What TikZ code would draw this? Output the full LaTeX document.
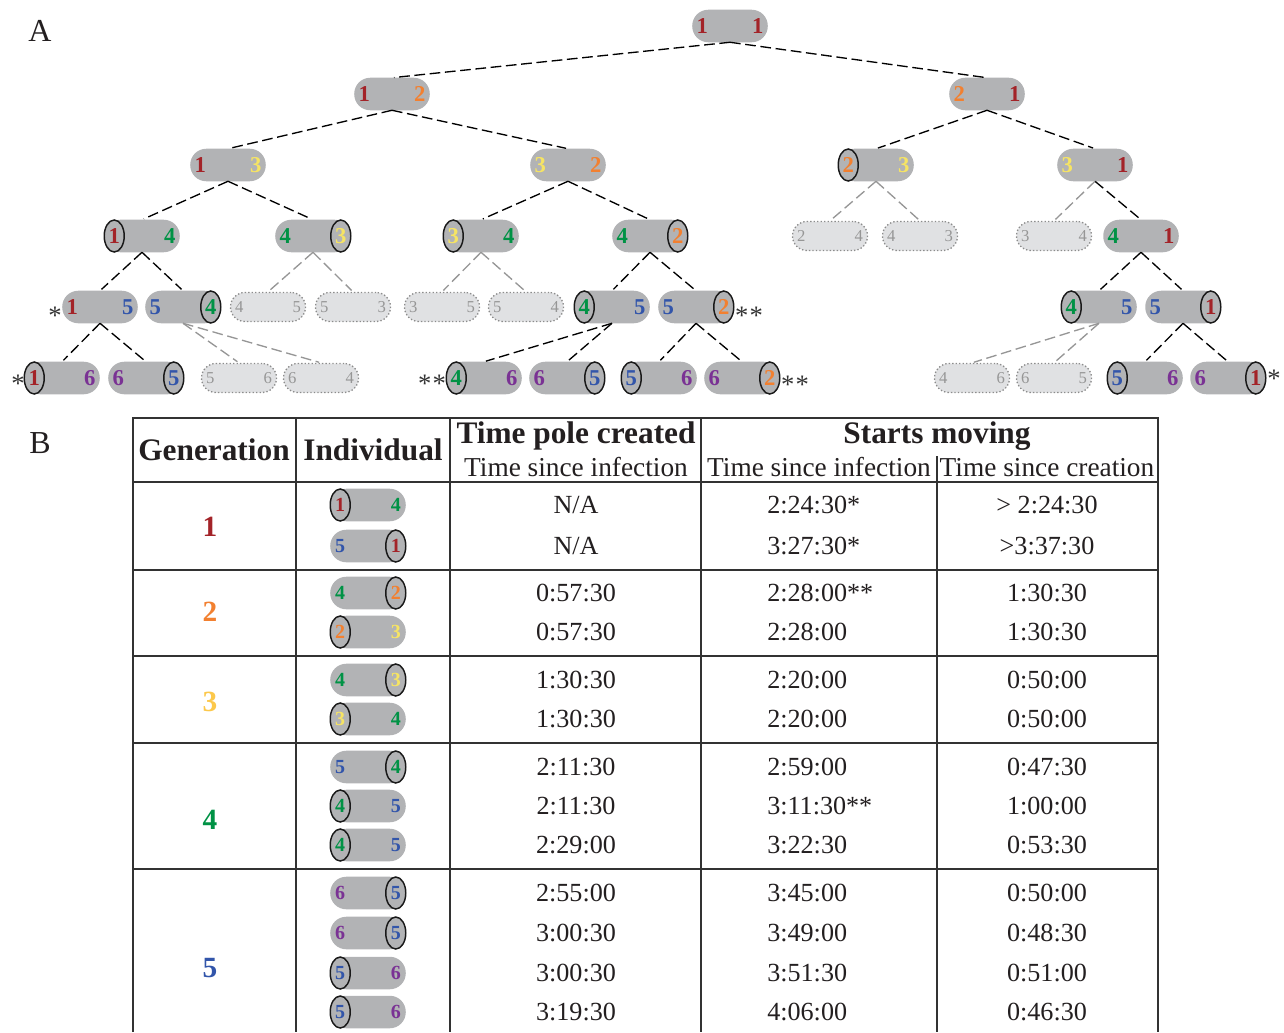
\documentclass[tikz,border=0pt]{standalone}
\usepackage{fontspec}
\setmainfont{Liberation Serif}
\definecolor{cR}{RGB}{163,35,40}
\definecolor{cO}{RGB}{242,128,48}
\definecolor{cY}{RGB}{246,228,100}
\definecolor{cYg}{RGB}{252,200,75}
\definecolor{cG}{RGB}{0,146,69}
\definecolor{cB}{RGB}{50,85,170}
\definecolor{cP}{RGB}{122,50,148}
\definecolor{pillgray}{RGB}{178,179,181}
\definecolor{ghostfill}{RGB}{224,225,227}
\definecolor{ghostline}{RGB}{140,140,140}
\definecolor{ghosttext}{RGB}{150,150,150}
\definecolor{linegray}{RGB}{150,150,150}
\definecolor{rulecol}{RGB}{50,50,50}
\definecolor{txt}{RGB}{35,31,32}
\newcommand\tdigf{\fontsize{17pt}{19pt}\selectfont\bfseries}
\newcommand\mdigf{\fontsize{15pt}{17pt}\selectfont\bfseries}
\newcommand\gdigf{\fontsize{12.5pt}{14pt}\selectfont}
\newcommand\hbf{\fontsize{23.5pt}{26pt}\selectfont\bfseries}
\newcommand\hsf{\fontsize{20.5pt}{24pt}\selectfont}
\newcommand\valf{\fontsize{19.6pt}{22pt}\selectfont}
\newcommand\genf{\fontsize{22pt}{24pt}\selectfont\bfseries}
\newcommand\labf{\fontsize{24pt}{26pt}\selectfont}
\newcommand\starf{\fontsize{20pt}{22pt}\selectfont}
\tikzset{
 pillbox/.style={inner sep=0pt, minimum width=56.25pt, minimum height=24pt},
 ghostbox/.style={inner sep=0pt, minimum width=56.25pt, minimum height=21.75pt, fill=ghostfill, draw=ghostline, line width=1pt, dash pattern=on 1pt off 1.6pt, rounded corners=10.8pt},
 capline/.style={draw=black!90, line width=1.1pt, fill=pillgray},
 tdig/.style={inner sep=0pt, font=\tdigf},
 mdig/.style={inner sep=0pt, font=\mdigf},
 gdig/.style={inner sep=0pt, font=\gdigf, text=ghosttext},
 dig/.style={tdig},
 link/.style={draw=black, line width=1pt, dash pattern=on 8pt off 3.5pt, shorten >=1.5pt},
 glink/.style={draw=linegray, line width=1pt, dash pattern=on 8pt off 3.5pt, shorten >=1.5pt},
 starnode/.style={inner sep=0pt, font=\starf, text=black!80, anchor=base},
 tline/.style={draw=rulecol, line width=1.2pt},
 hb/.style={inner sep=0pt, font=\hbf, text=txt, anchor=base},
 hs/.style={inner sep=0pt, font=\hsf, text=txt, anchor=base},
 val/.style={inner sep=0pt, font=\valf, text=txt, anchor=base, yshift=-6.4pt},
 gen/.style={inner sep=0pt, font=\genf},
 lab/.style={inner sep=0pt, font=\labf, text=txt},
}
% plain pill
\newcommand\pillN[6]{%
 \node[pillbox] (#1) at (#2) {};
 \fill[pillgray, rounded corners=12pt] (#1.south west) rectangle (#1.north east);
 \node[dig, text=#3] (#1-l) at ([xshift=7.5pt]#1.west) {#4};
 \node[dig, text=#5] (#1-r) at ([xshift=-7.5pt]#1.east) {#6};
}
% pill with cap on the left
\newcommand\pillL[6]{%
 \node[pillbox] (#1) at (#2) {};
 \fill[pillgray, rounded corners=12pt] (#1.south west) rectangle (#1.north east);
 \fill[pillgray] ([xshift=7.5pt]#1.south west) rectangle ([xshift=20pt]#1.north west);
 \filldraw[capline] ([xshift=7.5pt]#1.west) ellipse [x radius=7.5pt, y radius=12pt];
 \node[dig, text=#3] (#1-l) at ([xshift=7.5pt]#1.west) {#4};
 \node[dig, text=#5] (#1-r) at ([xshift=-7.5pt]#1.east) {#6};
}
% pill with cap on the right
\newcommand\pillR[6]{%
 \node[pillbox] (#1) at (#2) {};
 \fill[pillgray, rounded corners=12pt] (#1.south west) rectangle (#1.north east);
 \fill[pillgray] ([xshift=-20pt]#1.south east) rectangle ([xshift=-7.5pt]#1.north east);
 \filldraw[capline] ([xshift=-7.5pt]#1.east) ellipse [x radius=7.5pt, y radius=12pt];
 \node[dig, text=#3] (#1-l) at ([xshift=7.5pt]#1.west) {#4};
 \node[dig, text=#5] (#1-r) at ([xshift=-7.5pt]#1.east) {#6};
}
\newcommand\ghostpill[4]{%
 \node[ghostbox] (#1) at (#2) {};
 \node[gdig] (#1-l) at ([xshift=7pt]#1.west) {#3};
 \node[gdig] (#1-r) at ([xshift=-7pt]#1.east) {#4};
}
\newcommand\trow[5]{%
 \node[val] (tp#1) at (576,#2) {#3};
 \node[val, anchor=base west] (tm#1) at (767,#2) {#4};
 \node[val] (tc#1) at (1047,#2) {#5};
}
\begin{document}
\begin{tikzpicture}[x=0.75pt, y=-0.75pt]
\useasboundingbox (0,0) rectangle (1284,1032);
% labels
\node[lab] (labA) at (40,31) {A};
\node[lab] (labB) at (40,443) {B};
% ---------------- tree ----------------
\tikzset{dig/.style={tdig}}
\pillN{r}{730,26}{cR}{1}{cR}{1}
\pillN{a}{392,94}{cR}{1}{cO}{2}
\pillN{b}{987,94}{cO}{2}{cR}{1}
\pillN{aa}{228,165}{cR}{1}{cY}{3}
\pillN{ab}{568,165}{cY}{3}{cO}{2}
\pillL{ba}{876,165}{cO}{2}{cY}{3}
\pillN{bb}{1095,165}{cY}{3}{cR}{1}
\pillL{aaa}{142,236}{cR}{1}{cG}{4}
\pillR{aab}{313,236}{cG}{4}{cY}{3}
\pillL{aba}{481,236}{cY}{3}{cG}{4}
\pillR{abb}{650,236}{cG}{4}{cO}{2}
\ghostpill{baa}{830,236}{2}{4}
\ghostpill{bab}{920,236}{4}{3}
\ghostpill{bba}{1054,236}{3}{4}
\pillN{bbb}{1141,236}{cG}{4}{cR}{1}
\pillN{aaaa}{100,307}{cR}{1}{cB}{5}
\pillR{aaab}{183,307}{cB}{5}{cG}{4}
\ghostpill{aaba}{268,307}{4}{5}
\ghostpill{aabb}{353,307}{5}{3}
\ghostpill{abaa}{442,307}{3}{5}
\ghostpill{abab}{526,307}{5}{4}
\pillL{abba}{612,307}{cG}{4}{cB}{5}
\pillR{abbb}{696,307}{cB}{5}{cO}{2}
\pillL{bbba}{1099,307}{cG}{4}{cB}{5}
\pillR{bbbb}{1183,307}{cB}{5}{cR}{1}
\pillL{c1}{62,378}{cR}{1}{cP}{6}
\pillR{c2}{146,378}{cP}{6}{cB}{5}
\ghostpill{c3}{239,378}{5}{6}
\ghostpill{c4}{321,378}{6}{4}
\pillL{c5}{484,378}{cG}{4}{cP}{6}
\pillR{c6}{567,378}{cP}{6}{cB}{5}
\pillL{c7}{659,378}{cB}{5}{cP}{6}
\pillR{c8}{742,378}{cP}{6}{cO}{2}
\ghostpill{c9}{972,378}{4}{6}
\ghostpill{c10}{1054,378}{6}{5}
\pillL{c11}{1145,378}{cB}{5}{cP}{6}
\pillR{c12}{1228,378}{cP}{6}{cR}{1}
% connectors
\foreach \p/\c in {r/a, r/b, a/aa, a/ab, b/ba, b/bb, aa/aaa, aa/aab, ab/aba, ab/abb, bb/bbb,
  aaa/aaaa, aaa/aaab, abb/abba, abb/abbb, bbb/bbba, bbb/bbbb,
  aaaa/c1, aaaa/c2, abba/c5, abba/c6, abbb/c7, abbb/c8, bbbb/c11, bbbb/c12}
  \draw[link] (\p.south) -- (\c.north);
\foreach \p/\c in {ba/baa, ba/bab, bb/bba, aab/aaba, aab/aabb, aba/abaa, aba/abab,
  aaab/c3, aaab/c4, bbba/c9, bbba/c10}
  \draw[glink] (\p.south) -- (\c.north);
% asterisks
\node[starnode] (s1) at (55,324) {*};
\node[starnode] (s2) at (749,324) {*\kern1pt*};
\node[starnode] (s3) at (18,392) {*};
\node[starnode] (s4) at (432,392) {*\kern1pt*};
\node[starnode] (s5) at (795,393) {*\kern1pt*};
\node[starnode] (s6) at (1274,387) {*};
% ---------------- table ----------------
\draw[tline] (133,1032) -- (133,418) -- (1158,418) -- (1158,1032);
\foreach \x in {296,450,701} \draw[tline] (\x,418) -- (\x,1032);
\draw[tline] (937,456) -- (937,1032);
\foreach \y in {482,570,656,743,869} \draw[tline] (133,\y) -- (1158,\y);
\node[hb] (hgen) at (214,460) {Generation};
\node[hb] (hind) at (373,460) {Individual};
\node[hb] (htp) at (576,443) {Time pole created};
\node[hs] (htps) at (576,476) {Time since infection};
\node[hb] (hsm) at (937,443) {Starts moving};
\node[hs] (hsm1) at (819,476) {Time since infection};
\node[hs] (hsm2) at (1047,476) {Time since creation};
% generation numbers
\node[gen, text=cR] (g1) at (210,527) {1};
\node[gen, text=cO] (g2) at (210,612) {2};
\node[gen, text=cYg] (g3) at (210,702) {3};
\node[gen, text=cG] (g4) at (210,820) {4};
\node[gen, text=cB] (g5) at (210,968) {5};
% individuals
\tikzset{dig/.style={mdig}}
\pillL{i1}{368,505}{cR}{1}{cG}{4}
\pillR{i2}{368,546}{cB}{5}{cR}{1}
\pillR{i3}{368,593}{cG}{4}{cO}{2}
\pillL{i4}{368,632}{cO}{2}{cY}{3}
\pillR{i5}{368,680}{cG}{4}{cY}{3}
\pillL{i6}{368,719}{cY}{3}{cG}{4}
\pillR{i7}{368,767}{cB}{5}{cG}{4}
\pillL{i8}{368,806}{cG}{4}{cB}{5}
\pillL{i9}{368,845}{cG}{4}{cB}{5}
\pillR{i10}{368,893}{cP}{6}{cB}{5}
\pillR{i11}{368,933}{cP}{6}{cB}{5}
\pillL{i12}{368,973}{cB}{5}{cP}{6}
\pillL{i13}{368,1012}{cB}{5}{cP}{6}
% values
\trow{1}{505}{N/A}{2:24:30*}{> 2:24:30}
\trow{2}{546}{N/A}{3:27:30*}{>3:37:30}
\trow{3}{593}{0:57:30}{2:28:00**}{1:30:30}
\trow{4}{632}{0:57:30}{2:28:00}{1:30:30}
\trow{5}{680}{1:30:30}{2:20:00}{0:50:00}
\trow{6}{719}{1:30:30}{2:20:00}{0:50:00}
\trow{7}{767}{2:11:30}{2:59:00}{0:47:30}
\trow{8}{806}{2:11:30}{3:11:30**}{1:00:00}
\trow{9}{845}{2:29:00}{3:22:30}{0:53:30}
\trow{10}{893}{2:55:00}{3:45:00}{0:50:00}
\trow{11}{933}{3:00:30}{3:49:00}{0:48:30}
\trow{12}{973}{3:00:30}{3:51:30}{0:51:00}
\trow{13}{1012}{3:19:30}{4:06:00}{0:46:30}
\end{tikzpicture}
\end{document}
